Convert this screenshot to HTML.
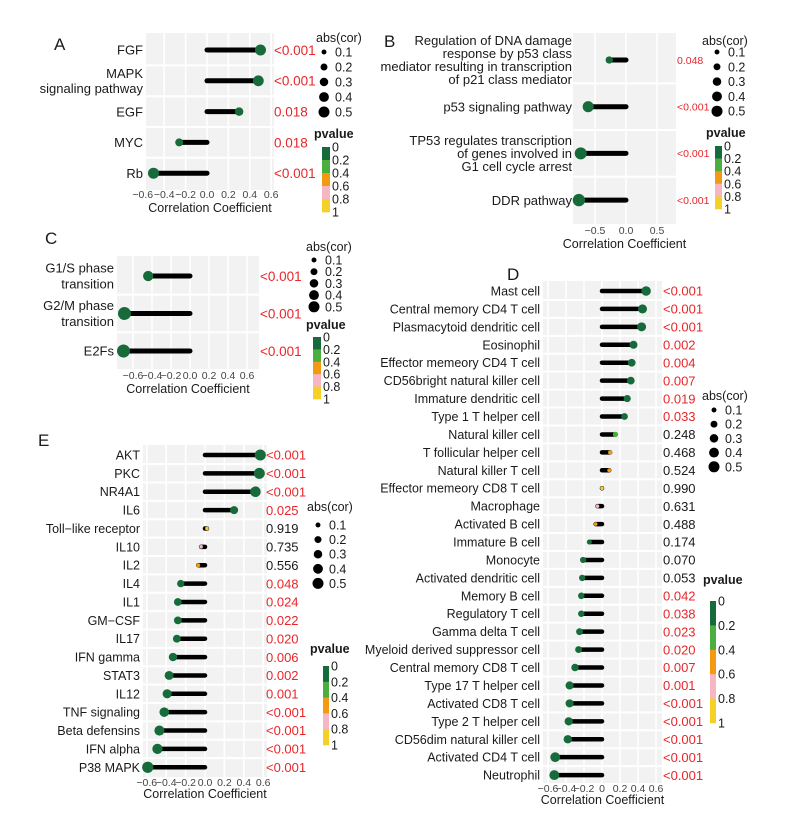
<!DOCTYPE html>
<html><head><meta charset="utf-8">
<style>
body{margin:0;background:#fff;}
svg{display:block;font-family:"Liberation Sans",Arial,sans-serif;}
</style></head>
<body>
<svg id="fig" width="790" height="813" viewBox="0 0 790 813"></svg>
<script>
// ---------- DATA ----------
const catsA = ["FGF","MAPK\nsignaling pathway","EGF","MYC","Rb"];
const corA = [0.50,0.48,0.30,-0.26,-0.50];
const pA = [0.0005,0.0005,0.018,0.018,0.0005];
const pLabA = ["<0.001","<0.001","0.018","0.018","<0.001"];

const catsB = ["Regulation of DNA damage\nresponse by p53 class\nmediator resulting in transcription\nof p21 class mediator","p53 signaling pathway","TP53 regulates transcription\nof genes involved in\nG1 cell cycle arrest","DDR pathway"];
const corB = [-0.27,-0.61,-0.73,-0.76];
const pB = [0.048,0.0005,0.0005,0.0005];
const pLabB = ["0.048","<0.001","<0.001","<0.001"];

const catsC = ["G1/S phase\ntransition","G2/M phase\ntransition","E2Fs"];
const corC = [-0.44,-0.69,-0.70];
const pC = [0.0005,0.0005,0.0005];
const pLabC = ["<0.001","<0.001","<0.001"];

const catsD = ["Mast cell","Central memory CD4 T cell","Plasmacytoid dendritic cell","Eosinophil","Effector memeory CD4 T cell","CD56bright natural killer cell","Immature dendritic cell","Type 1 T helper cell","Natural killer cell","T follicular helper cell","Natural killer T cell","Effector memeory CD8 T cell","Macrophage","Activated B cell","Immature  B cell","Monocyte","Activated dendritic cell","Memory B cell","Regulatory T cell","Gamma delta T cell","Myeloid derived suppressor cell","Central memory CD8 T cell","Type 17 T helper cell","Activated CD8 T cell","Type 2 T helper cell","CD56dim natural killer cell","Activated CD4 T cell","Neutrophil"];
const corD = [0.49,0.45,0.44,0.35,0.33,0.32,0.28,0.25,0.15,0.09,0.08,0.00,-0.05,-0.07,-0.14,-0.21,-0.22,-0.23,-0.23,-0.25,-0.26,-0.30,-0.36,-0.36,-0.37,-0.38,-0.52,-0.53];
const pD = [0.0005,0.0005,0.0005,0.002,0.004,0.007,0.019,0.033,0.248,0.468,0.524,0.990,0.631,0.488,0.174,0.070,0.053,0.042,0.038,0.023,0.020,0.007,0.001,0.0005,0.0005,0.0005,0.0005,0.0005];
const pLabD = ["<0.001","<0.001","<0.001","0.002","0.004","0.007","0.019","0.033","0.248","0.468","0.524","0.990","0.631","0.488","0.174","0.070","0.053","0.042","0.038","0.023","0.020","0.007","0.001","<0.001","<0.001","<0.001","<0.001","<0.001"];

const catsE = ["AKT","PKC","NR4A1","IL6","Toll\u2212like receptor","IL10","IL2","IL4","IL1","GM\u2212CSF","IL17","IFN gamma","STAT3","IL12","TNF signaling","Beta defensins","IFN alpha","P38 MAPK"];
const corE = [0.57,0.56,0.52,0.30,0.02,-0.04,-0.07,-0.25,-0.28,-0.28,-0.29,-0.33,-0.37,-0.39,-0.42,-0.47,-0.49,-0.59];
const pE = [0.0005,0.0005,0.0005,0.025,0.919,0.735,0.556,0.048,0.024,0.022,0.020,0.006,0.002,0.001,0.0005,0.0005,0.0005,0.0005];
const pLabE = ["<0.001","<0.001","<0.001","0.025","0.919","0.735","0.556","0.048","0.024","0.022","0.020","0.006","0.002","0.001","<0.001","<0.001","<0.001","<0.001"];

const ticks6 = [-0.6,-0.4,-0.2,0.0,0.2,0.4,0.6];
const tickLab6 = ["\u22120.6","\u22120.4","\u22120.2","0.0","0.2","0.4","0.6"];
const tickLabD = ["\u22120.6","\u22120.4","\u22120.2","0","0.2","0.4","0.6"];
const ticksB = [-0.5,0.0,0.5];
const tickLabB = ["\u22120.5","0.0","0.5"];
const legSizes = [0.1,0.2,0.3,0.4,0.5];
const legColors = ["#176b3a","#4cae3f","#f39a12","#f5b7c3","#f4d028"];
const legBreaks = ["0","0.2","0.4","0.6","0.8","1"];

// ---------- HELPERS ----------
const NS="http://www.w3.org/2000/svg";
const svg=document.getElementById('fig');
function mk(tag,attrs,parent){const e=document.createElementNS(NS,tag);for(const k in attrs)e.setAttribute(k,attrs[k]);(parent||svg).appendChild(e);return e;}
function pcol(p){return p<0.2?legColors[0]:p<0.4?legColors[1]:p<0.6?legColors[2]:p<0.8?legColors[3]:legColors[4];}
function txt(parent,x,y,s,opts){const t=mk('text',{x:x,y:y,'font-size':opts.fs||12,fill:opts.fill||'#1a1a1a','text-anchor':opts.anchor||'start'},parent);if(opts.bold)t.setAttribute('font-weight','bold');t.textContent=s;return t;}

function panel(cfg,cats,cor,pv,plab,ticks,tlabs){
  const g=mk('g',{});
  
  
  const xs=v=>cfg.zero+v*cfg.scale;
  const ys=i=>cfg.y0+i*cfg.step;
  const bg=mk('rect',{x:cfg.L,y:cfg.top,width:cfg.R-cfg.L,height:cfg.bottom-cfg.top,fill:'#f2f2f2'},g);
  
  
  ticks.forEach(t=>{mk('line',{x1:xs(t),x2:xs(t),y1:cfg.top,y2:cfg.bottom,stroke:'#fff','stroke-width':1.6},g);});
  for(let i=0;i<cats.length-1;i++){const yy=(ys(i)+ys(i+1))/2;mk('line',{x1:cfg.L,x2:cfg.R,y1:yy,y2:yy,stroke:'#fff','stroke-width':2},g);}
  cats.forEach((c,i)=>{
    const y=ys(i);
    const lines=c.split('\n');const lh=cfg.lh||14;
    lines.forEach((ln,k)=>{const t=txt(g,cfg.labR,y+(k-(lines.length-1)/2)*lh+cfg.fs*0.36,ln,{fs:cfg.fs,anchor:'end'});
      
      });
    const seg=mk('line',{x1:xs(0),x2:xs(cor[i]),y1:y,y2:y,stroke:'#000','stroke-width':cfg.sw,'stroke-linecap':'round'},g);
    
    
    const r=Math.max(1.8,cfg.rmax*Math.sqrt(Math.abs(cor[i])/0.5));
    const dot=mk('circle',{cx:xs(cor[i]),cy:y,r:r,fill:pcol(pv[i])},g);
    
    
    const vt=txt(g,cfg.valX,y+cfg.vfs*0.36,plab[i],{fs:cfg.vfs,fill:pv[i]<0.05?'#e8262a':'#1a1a1a'});
    
    
  });
  ticks.forEach((t,i)=>{const tt=txt(g,xs(t),cfg.tickY,tlabs[i],{fs:cfg.tfs||10.5,fill:'#444',anchor:'middle'});
    
    });
  const at=txt(g,(cfg.L+cfg.R)/2,cfg.titleY,'Correlation Coefficient',{fs:12.5,anchor:'middle'});
  
  
  const pl=txt(g,cfg.letX,cfg.letY,cfg.letter,{fs:17});
  
  
}

function legend(cfg){
  const g=mk('g',{});
  
  
  const t1=txt(g,cfg.sx,cfg.sTitleY,'abs(cor)',{fs:12.5});
  
  
  legSizes.forEach((s,i)=>{const y=cfg.sy0+i*cfg.sstep;
    const c=mk('circle',{cx:cfg.dotX,cy:y,r:cfg.rmax*Math.sqrt(s/0.5),fill:'#000'},g);
    
    
    const l=txt(g,cfg.dotX+11,y+4.5,String(s),{fs:12.5});
    
    });
  const t2=txt(g,cfg.px,cfg.pTitleY,'pvalue',{fs:12.5,bold:true});
  
  
  const seg=(cfg.cb1-cfg.cb0)/5;
  legColors.forEach((col,i)=>{const r=mk('rect',{x:cfg.cbx,y:cfg.cb0+i*seg,width:cfg.cbw,height:seg+0.3,fill:col},g);
    
    });
  legBreaks.forEach((b,i)=>{const l=txt(g,cfg.cbx+cfg.cbw+2,cfg.cb0+i*seg+4.5,b,{fs:12.5});
    
    });
}

// ---------- PANELS ----------
panel({name:'panel-a',zero:207,scale:107,L:146,R:274,y0:50,step:30.8,top:33,bottom:190,tickY:198,titleY:212,labR:143,valX:274,fs:13,vfs:13.5,rmax:5.5,sw:5,lh:15,letter:'A',letX:54,letY:50},catsA,corA,pA,pLabA,ticks6,tickLab6);
panel({name:'panel-b',zero:626,scale:62,L:573,R:676,y0:60,step:46.7,top:33,bottom:224,tickY:234,titleY:248,labR:572,valX:677,fs:13,vfs:10.5,rmax:5,sw:5,lh:13,letter:'B',letX:384,letY:47},catsB,corB,pB,pLabB,ticksB,tickLabB);
panel({name:'panel-c',zero:190,scale:95,L:117,R:259,y0:276,step:37.5,top:256,bottom:369,tickY:379,titleY:393,labR:114,valX:260,fs:13,vfs:13.5,rmax:5.5,sw:5,lh:16,letter:'C',letX:45,letY:244},catsC,corC,pC,pLabC,ticks6,tickLab6);
panel({name:'panel-d',zero:602,scale:90,L:543,R:662,y0:291,step:17.93,top:281,bottom:783,tickY:792,titleY:804,labR:540,valX:663,fs:12.5,vfs:13,rmax:4.8,sw:4.5,letter:'D',letX:507,letY:280},catsD,corD,pD,pLabD,ticks6,tickLabD);
panel({name:'panel-e',zero:205,scale:97,L:143,R:267,y0:455,step:18.37,top:445,bottom:777,tickY:786,titleY:798,labR:140,valX:266,fs:12.5,vfs:13,rmax:5.2,sw:4.5,letter:'E',letX:38,letY:446},catsE,corE,pE,pLabE,ticks6,tickLab6);

// ---------- LEGENDS ----------
legend({sx:316,sTitleY:42,sy0:52,sstep:15,dotX:324,rmax:5.5,px:314,pTitleY:138,cbx:322,cbw:8,cb0:147,cb1:212});
legend({sx:702,sTitleY:45,sy0:52,sstep:14.8,dotX:717,rmax:5.5,px:706,pTitleY:137,cbx:715,cbw:7,cb0:146,cb1:209});
legend({sx:306,sTitleY:251,sy0:260,sstep:11.7,dotX:314,rmax:5.5,px:306,pTitleY:329,cbx:313,cbw:8,cb0:337,cb1:399});
legend({sx:702,sTitleY:400,sy0:410,sstep:14.2,dotX:714,rmax:5.5,px:703,pTitleY:584,cbx:710,cbw:6,cb0:601,cb1:723});
legend({sx:307,sTitleY:511,sy0:525,sstep:14.6,dotX:318,rmax:5.5,px:310,pTitleY:653,cbx:323,cbw:6,cb0:666,cb1:745});
</script>
</body></html>
